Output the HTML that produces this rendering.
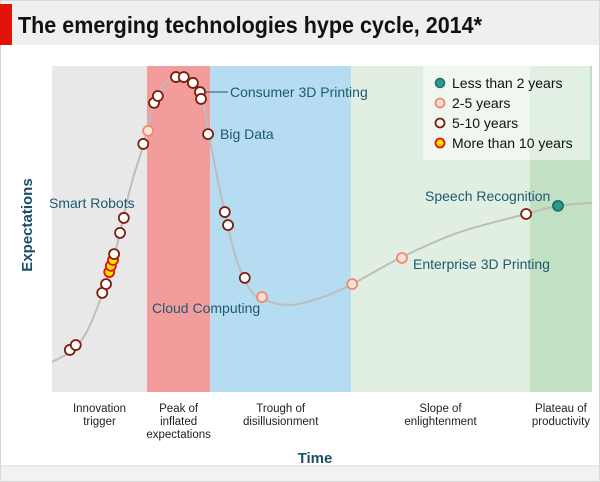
<!DOCTYPE html>
<html><head><meta charset="utf-8"><style>
body{margin:0;width:600px;height:482px;overflow:hidden;background:#fff;font-family:"Liberation Sans",sans-serif;}
</style></head><body>
<svg width="600" height="482" style="display:block">
<rect x="0.5" y="0.5" width="599" height="481" fill="#fff" stroke="#d8d8d8"/>
<rect x="1" y="1" width="598" height="44" fill="#efefef"/>
<rect x="0" y="4" width="12" height="41" fill="#e3120b"/>
<text x="18" y="33" font-size="23" font-weight="bold" fill="#111" textLength="464" lengthAdjust="spacingAndGlyphs">The emerging technologies hype cycle, 2014*</text>
<rect x="1" y="466" width="598" height="15" fill="#f2f2f2"/>
<line x1="1" y1="466" x2="599" y2="466" stroke="#d8d8d8"/>
<g id="bands"></g>
<rect x="423" y="66" width="167" height="94" fill="#fff" opacity="0.5"/>
<g id="curve"></g>
<g id="dots"></g>
<g font-size="14" fill="#1e5a70">
<text x="49" y="208">Smart Robots</text>
<line x1="204" y1="92" x2="228" y2="92" stroke="#1e5a70"/>
<text x="230" y="97">Consumer 3D Printing</text>
<text x="220" y="139">Big Data</text>
<text x="152" y="313">Cloud Computing</text>
<text x="425" y="201">Speech Recognition</text>
<text x="413" y="269">Enterprise 3D Printing</text>
</g>
<g font-size="14" fill="#111">
<circle cx="440" cy="83" r="4.5" fill="#2a9d8f" stroke="#1b6f66" stroke-width="1.5"/><text x="452" y="88">Less than 2 years</text>
<circle cx="440" cy="103" r="4.5" fill="#fde0d8" stroke="#ef8a6e" stroke-width="1.8"/><text x="452" y="108">2-5 years</text>
<circle cx="440" cy="123" r="4.5" fill="#fff" stroke="#7a1f0c" stroke-width="1.8"/><text x="452" y="128">5-10 years</text>
<circle cx="440" cy="143" r="4.5" fill="#ffe000" stroke="#e3120b" stroke-width="1.8"/><text x="452" y="148">More than 10 years</text>
</g>
<g id="xlabels" font-size="11.5" fill="#222" text-anchor="middle"></g>
<text x="315" y="463" font-size="15" font-weight="bold" fill="#1b4f6b" text-anchor="middle">Time</text>
<text transform="translate(32,225) rotate(-90)" font-size="15" font-weight="bold" fill="#1b4f6b" text-anchor="middle">Expectations</text>
</svg>
<script>
const phaseNames=[["Innovation","trigger"],["Peak of","inflated","expectations"],["Trough of","disillusionment"],["Slope of","enlightenment"],["Plateau of","productivity"]];
const phaseStart=[0,17.6,29.3,55.4,88.5];
const phaseEnd=[17.6,29.3,55.4,88.5,100];
const phaseColors=["#e8e8e8","#f39c9c","#b6dcf1","#e1efe2","#c2e0c4"];
const curveX=[0,3.3,6.1,8.9,11.7,14.4,16.9,19.1,21.9,24.3,26.7,28.1,29.6,31.5,33.9,36.7,39.4,44.1,49.6,55.6,64.8,75.6,87.8,93.7,100];
const curveY=[9.2,12.3,17.5,28.2,42.9,62,75.8,89.6,96.3,97.5,94.2,88,74.2,58.9,42,31.3,28.2,26.7,28.8,33.1,41.4,49.1,54.6,57.1,58];
const dotX=[10.6,10.9,11.3,3.3,4.4,9.3,10,11.5,12.6,13.3,16.9,17.8,18.9,19.6,22.96,24.4,26.1,27.4,27.6,28.9,32,32.6,35.7,38.9,55.6,64.8,87.8,93.7];
const dotY=[36.8,38.7,40.5,12.9,14.4,30.4,33.1,42.3,48.8,53.4,76.1,80.1,88.7,90.8,96.6,96.6,94.8,92,89.9,79.1,55.2,51.2,35,29.1,33.1,41.1,54.6,57.1];
const dotCat=[3,3,3,2,2,2,2,2,2,2,2,1,2,2,2,2,2,2,2,2,2,2,2,1,1,1,2,0];
const catFill=["#2a9d8f","#fde0d8","#fff","#ffe000"];
const catStroke=["#1b6f66","#ef8a6e","#7a1f0c","#e3120b"];
const L=52,R=592,T=66,B=392;
const sx=v=>L+v*(R-L)/100, sy=v=>B-v*(B-T)/100;
const NS="http://www.w3.org/2000/svg";
function mk(t,a,p){const e=document.createElementNS(NS,t);for(const k in a)e.setAttribute(k,a[k]);p.appendChild(e);return e;}
const bands=document.getElementById('bands'),xl=document.getElementById('xlabels');
phaseStart.forEach((s,i)=>{
 const r=mk('rect',{x:sx(s),y:T,width:sx(phaseEnd[i])-sx(s),height:B-T,fill:phaseColors[i]},bands);
 
 
 const cx=(sx(s)+sx(phaseEnd[i]))/2;
 const t=mk('text',{x:cx,y:412},xl);
 
 
 phaseNames[i].forEach((ln,j)=>{const ts=mk('tspan',{x:cx,dy:j?13:0},t);ts.textContent=ln;});
});
const P=curveX.map((x,i)=>[sx(x),sy(curveY[i])]);
let d='M'+P[0][0]+','+P[0][1];
for(let i=0;i<P.length-1;i++){const p0=P[i-1]||P[i],p1=P[i],p2=P[i+1],p3=P[i+2]||p2;
 d+=' C'+(p1[0]+(p2[0]-p0[0])/6)+','+(p1[1]+(p2[1]-p0[1])/6)+' '+(p2[0]-(p3[0]-p1[0])/6)+','+(p2[1]-(p3[1]-p1[1])/6)+' '+p2[0]+','+p2[1];}
const c=mk('path',{d:d,fill:'none',stroke:'#bdbdbd','stroke-width':2},document.getElementById('curve'));


const dots=document.getElementById('dots');
dotX.forEach((x,i)=>{const k=dotCat[i];
 const e=mk('circle',{cx:sx(x),cy:sy(dotY[i]),r:5,fill:catFill[k],stroke:catStroke[k],'stroke-width':1.8},dots);
 
 
});
</script>
</body></html>
